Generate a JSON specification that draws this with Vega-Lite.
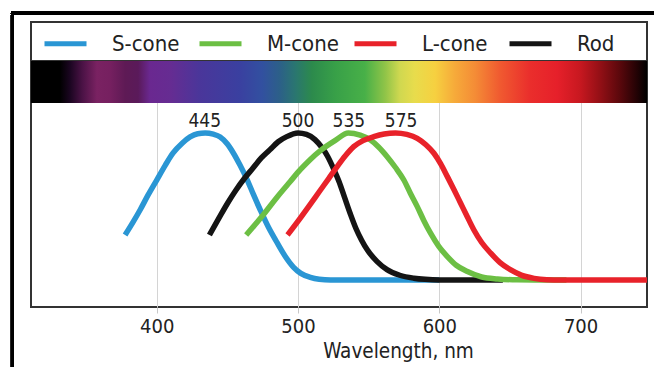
{
  "$schema": "https://vega.github.io/schema/vega-lite/v6.json",
  "autosize": {"type": "none"},
  "padding": {"left": 31, "top": 22, "right": 7, "bottom": 60},
  "width": 616,
  "height": 285,
  "background": "white",
  "config": {
    "view": {"stroke": "#333333", "strokeWidth": 2},
    "font": "DejaVu Sans Condensed, Liberation Sans, sans-serif"
  },
  "resolve": {"axis": {"x": "independent"}},
  "data": {"values": [
    {"series": "S-cone", "nm": 377.6, "s": 0.306},
    {"series": "S-cone", "nm": 383, "s": 0.39},
    {"series": "S-cone", "nm": 388.2, "s": 0.476},
    {"series": "S-cone", "nm": 394, "s": 0.58},
    {"series": "S-cone", "nm": 400, "s": 0.68},
    {"series": "S-cone", "nm": 406, "s": 0.78},
    {"series": "S-cone", "nm": 411.6, "s": 0.864},
    {"series": "S-cone", "nm": 418, "s": 0.93},
    {"series": "S-cone", "nm": 423.6, "s": 0.973},
    {"series": "S-cone", "nm": 429, "s": 0.995},
    {"series": "S-cone", "nm": 434.3, "s": 1.0},
    {"series": "S-cone", "nm": 440, "s": 0.992},
    {"series": "S-cone", "nm": 444.9, "s": 0.973},
    {"series": "S-cone", "nm": 450, "s": 0.925},
    {"series": "S-cone", "nm": 454.2, "s": 0.864},
    {"series": "S-cone", "nm": 459, "s": 0.78},
    {"series": "S-cone", "nm": 464.1, "s": 0.68},
    {"series": "S-cone", "nm": 468.5, "s": 0.58},
    {"series": "S-cone", "nm": 473.3, "s": 0.476},
    {"series": "S-cone", "nm": 479, "s": 0.36},
    {"series": "S-cone", "nm": 485.3, "s": 0.252},
    {"series": "S-cone", "nm": 491, "s": 0.16},
    {"series": "S-cone", "nm": 496.7, "s": 0.088},
    {"series": "S-cone", "nm": 502, "s": 0.045},
    {"series": "S-cone", "nm": 508.7, "s": 0.018},
    {"series": "S-cone", "nm": 515, "s": 0.005},
    {"series": "S-cone", "nm": 523, "s": 0.0},
    {"series": "S-cone", "nm": 560, "s": 0.0},
    {"series": "S-cone", "nm": 600, "s": 0.0},
    {"series": "Rod", "nm": 437.3, "s": 0.306},
    {"series": "Rod", "nm": 444, "s": 0.42},
    {"series": "Rod", "nm": 450, "s": 0.52},
    {"series": "Rod", "nm": 456, "s": 0.61},
    {"series": "Rod", "nm": 462, "s": 0.69},
    {"series": "Rod", "nm": 468, "s": 0.76},
    {"series": "Rod", "nm": 474, "s": 0.83},
    {"series": "Rod", "nm": 480, "s": 0.885},
    {"series": "Rod", "nm": 486, "s": 0.94},
    {"series": "Rod", "nm": 492, "s": 0.975},
    {"series": "Rod", "nm": 500, "s": 1.0},
    {"series": "Rod", "nm": 506, "s": 0.99},
    {"series": "Rod", "nm": 512, "s": 0.955},
    {"series": "Rod", "nm": 517, "s": 0.9},
    {"series": "Rod", "nm": 521, "s": 0.84},
    {"series": "Rod", "nm": 525, "s": 0.76},
    {"series": "Rod", "nm": 529, "s": 0.67},
    {"series": "Rod", "nm": 533, "s": 0.56},
    {"series": "Rod", "nm": 537, "s": 0.45},
    {"series": "Rod", "nm": 541, "s": 0.35},
    {"series": "Rod", "nm": 545, "s": 0.27},
    {"series": "Rod", "nm": 549, "s": 0.205},
    {"series": "Rod", "nm": 556, "s": 0.125},
    {"series": "Rod", "nm": 563, "s": 0.07},
    {"series": "Rod", "nm": 572, "s": 0.032},
    {"series": "Rod", "nm": 582, "s": 0.012},
    {"series": "Rod", "nm": 590, "s": 0.004},
    {"series": "Rod", "nm": 600, "s": 0.0},
    {"series": "Rod", "nm": 645, "s": 0.0},
    {"series": "M-cone", "nm": 463.3, "s": 0.306},
    {"series": "M-cone", "nm": 474.7, "s": 0.435},
    {"series": "M-cone", "nm": 485.3, "s": 0.565},
    {"series": "M-cone", "nm": 494.5, "s": 0.67},
    {"series": "M-cone", "nm": 501.6, "s": 0.75},
    {"series": "M-cone", "nm": 508.7, "s": 0.82},
    {"series": "M-cone", "nm": 515.8, "s": 0.88},
    {"series": "M-cone", "nm": 526.4, "s": 0.95},
    {"series": "M-cone", "nm": 535.6, "s": 1.0},
    {"series": "M-cone", "nm": 544, "s": 0.985},
    {"series": "M-cone", "nm": 551.3, "s": 0.952},
    {"series": "M-cone", "nm": 557, "s": 0.905},
    {"series": "M-cone", "nm": 563.1, "s": 0.839},
    {"series": "M-cone", "nm": 569, "s": 0.765},
    {"series": "M-cone", "nm": 574.9, "s": 0.68},
    {"series": "M-cone", "nm": 579.5, "s": 0.59},
    {"series": "M-cone", "nm": 584.4, "s": 0.499},
    {"series": "M-cone", "nm": 589, "s": 0.405},
    {"series": "M-cone", "nm": 593.8, "s": 0.318},
    {"series": "M-cone", "nm": 599.5, "s": 0.23},
    {"series": "M-cone", "nm": 605.7, "s": 0.159},
    {"series": "M-cone", "nm": 612, "s": 0.1},
    {"series": "M-cone", "nm": 619.9, "s": 0.057},
    {"series": "M-cone", "nm": 630, "s": 0.02},
    {"series": "M-cone", "nm": 641.2, "s": 0.007},
    {"series": "M-cone", "nm": 655, "s": 0.001},
    {"series": "M-cone", "nm": 667, "s": 0.0},
    {"series": "M-cone", "nm": 690, "s": 0.0},
    {"series": "L-cone", "nm": 492.6, "s": 0.306},
    {"series": "L-cone", "nm": 500, "s": 0.4},
    {"series": "L-cone", "nm": 507.5, "s": 0.499},
    {"series": "L-cone", "nm": 515, "s": 0.6},
    {"series": "L-cone", "nm": 521.7, "s": 0.69},
    {"series": "L-cone", "nm": 527.7, "s": 0.771},
    {"series": "L-cone", "nm": 533.5, "s": 0.845},
    {"series": "L-cone", "nm": 539.4, "s": 0.907},
    {"series": "L-cone", "nm": 546, "s": 0.948},
    {"series": "L-cone", "nm": 553.6, "s": 0.975},
    {"series": "L-cone", "nm": 561, "s": 0.993},
    {"series": "L-cone", "nm": 569, "s": 1.0},
    {"series": "L-cone", "nm": 577, "s": 0.99},
    {"series": "L-cone", "nm": 584.4, "s": 0.964},
    {"series": "L-cone", "nm": 590.5, "s": 0.92},
    {"series": "L-cone", "nm": 596.2, "s": 0.862},
    {"series": "L-cone", "nm": 601, "s": 0.79},
    {"series": "L-cone", "nm": 605.7, "s": 0.703},
    {"series": "L-cone", "nm": 610.5, "s": 0.612},
    {"series": "L-cone", "nm": 615.1, "s": 0.522},
    {"series": "L-cone", "nm": 619.8, "s": 0.43},
    {"series": "L-cone", "nm": 624.5, "s": 0.34},
    {"series": "L-cone", "nm": 630, "s": 0.255},
    {"series": "L-cone", "nm": 636.4, "s": 0.182},
    {"series": "L-cone", "nm": 643, "s": 0.118},
    {"series": "L-cone", "nm": 650.6, "s": 0.068},
    {"series": "L-cone", "nm": 658, "s": 0.033},
    {"series": "L-cone", "nm": 667.1, "s": 0.011},
    {"series": "L-cone", "nm": 676, "s": 0.002},
    {"series": "L-cone", "nm": 686, "s": 0.0},
    {"series": "L-cone", "nm": 747, "s": 0.0}
  ]},
  "layer": [
    {
      "mark": {"type": "line", "interpolate": "monotone", "strokeWidth": 5.5, "strokeJoin": "round"},
      "encoding": {
        "x": {
          "field": "nm", "type": "quantitative",
          "scale": {"domain": [311, 747], "nice": false, "zero": false},
          "axis": {
            "orient": "bottom",
            "values": [400, 500, 600, 700],
            "title": "Wavelength, nm",
            "grid": true, "gridColor": "#d4d4d4", "gridWidth": 1,
            "domain": false,
            "tickColor": "#c8c8c8", "tickSize": 6, "tickWidth": 1,
            "labelFontSize": 20, "labelColor": "#222222", "labelPadding": 3,
            "titleFontSize": 20.5, "titleFontWeight": "normal", "titleColor": "#222222",
            "titleX": 367, "titleY": 50, "titleBaseline": "alphabetic", "titleAlign": "center"
          }
        },
        "y": {"field": "s", "type": "quantitative", "axis": null, "scale": {"domain": [-0.184, 1.755], "nice": false, "zero": false}},
        "color": {
          "field": "series", "type": "nominal",
          "scale": {"domain": ["S-cone", "M-cone", "L-cone", "Rod"], "range": ["#2a96d4", "#6cbf44", "#e8222a", "#141414"]},
          "legend": {
            "title": null, "orient": "none", "legendX": 11, "legendY": -2,
            "direction": "horizontal", "columns": 4, "gridAlign": "all", "columnPadding": 5,
            "symbolType": "stroke", "symbolSize": 1764, "symbolStrokeWidth": 5,
            "labelFontSize": 22, "labelColor": "#222222", "labelOffset": 23, "padding": 0
          }
        }
      }
    },
    {
      "data": {"values": [
        {"series": "S-cone", "nm": 434, "s": 1.0, "label": "445"},
        {"series": "Rod", "nm": 500, "s": 1.0, "label": "500"},
        {"series": "M-cone", "nm": 536, "s": 1.0, "label": "535"},
        {"series": "L-cone", "nm": 573, "s": 1.0, "label": "575"}
      ]},
      "mark": {"type": "text", "fontSize": 19, "color": "#222222", "baseline": "alphabetic", "align": "center", "dy": -6},
      "encoding": {
        "x": {"field": "nm", "type": "quantitative", "axis": null},
        "y": {"field": "s", "type": "quantitative", "axis": null},
        "text": {"field": "label"}
      }
    },
    {
      "mark": {"type": "rect", "fill": "white", "stroke": "#333333", "strokeWidth": 2},
      "encoding": {
        "x": {"datum": 311, "type": "quantitative", "axis": null},
        "x2": {"datum": 747},
        "y": {"datum": 1.49, "type": "quantitative", "axis": null},
        "y2": {"datum": 1.755}
      }
    },
    {
      "mark": {
        "type": "rect",
        "color": {
          "gradient": "linear", "x1": 0, "x2": 1, "y1": 0, "y2": 0,
          "stops": [
            {"offset": 0, "color": "#000000"},
            {"offset": 0.047, "color": "#000000"},
            {"offset": 0.063, "color": "#1a0520"},
            {"offset": 0.083, "color": "#4a1245"},
            {"offset": 0.107, "color": "#7a2262"},
            {"offset": 0.128, "color": "#762060"},
            {"offset": 0.153, "color": "#5e1a55"},
            {"offset": 0.174, "color": "#5a1a5a"},
            {"offset": 0.193, "color": "#6a2890"},
            {"offset": 0.226, "color": "#662c92"},
            {"offset": 0.274, "color": "#4a369a"},
            {"offset": 0.339, "color": "#3a40a0"},
            {"offset": 0.375, "color": "#3250a0"},
            {"offset": 0.404, "color": "#2c6088"},
            {"offset": 0.429, "color": "#2a7670"},
            {"offset": 0.456, "color": "#2c8a4c"},
            {"offset": 0.494, "color": "#38a048"},
            {"offset": 0.542, "color": "#48b048"},
            {"offset": 0.575, "color": "#90c448"},
            {"offset": 0.599, "color": "#d0d850"},
            {"offset": 0.623, "color": "#e8dc4c"},
            {"offset": 0.656, "color": "#f6d040"},
            {"offset": 0.688, "color": "#f6aa3a"},
            {"offset": 0.721, "color": "#f48c36"},
            {"offset": 0.761, "color": "#f05a30"},
            {"offset": 0.81, "color": "#ea2e2c"},
            {"offset": 0.854, "color": "#e6202a"},
            {"offset": 0.891, "color": "#c81820"},
            {"offset": 0.922, "color": "#961016"},
            {"offset": 0.956, "color": "#5a080c"},
            {"offset": 0.985, "color": "#200204"},
            {"offset": 1, "color": "#000000"}
          ]
        }
      },
      "encoding": {
        "x": {"datum": 311, "type": "quantitative", "axis": null},
        "x2": {"datum": 747},
        "y": {"datum": 1.205, "type": "quantitative", "axis": null},
        "y2": {"datum": 1.49}
      }
    },
    {
      "mark": {"type": "rect", "filled": false, "stroke": "#000000", "strokeWidth": 3},
      "encoding": {
        "x": {"datum": 297.9, "type": "quantitative", "axis": null},
        "x2": {"datum": 757.6},
        "y": {"datum": 1.8184, "type": "quantitative", "axis": null},
        "y2": {"datum": -0.68}
      }
    }
  ]
}
